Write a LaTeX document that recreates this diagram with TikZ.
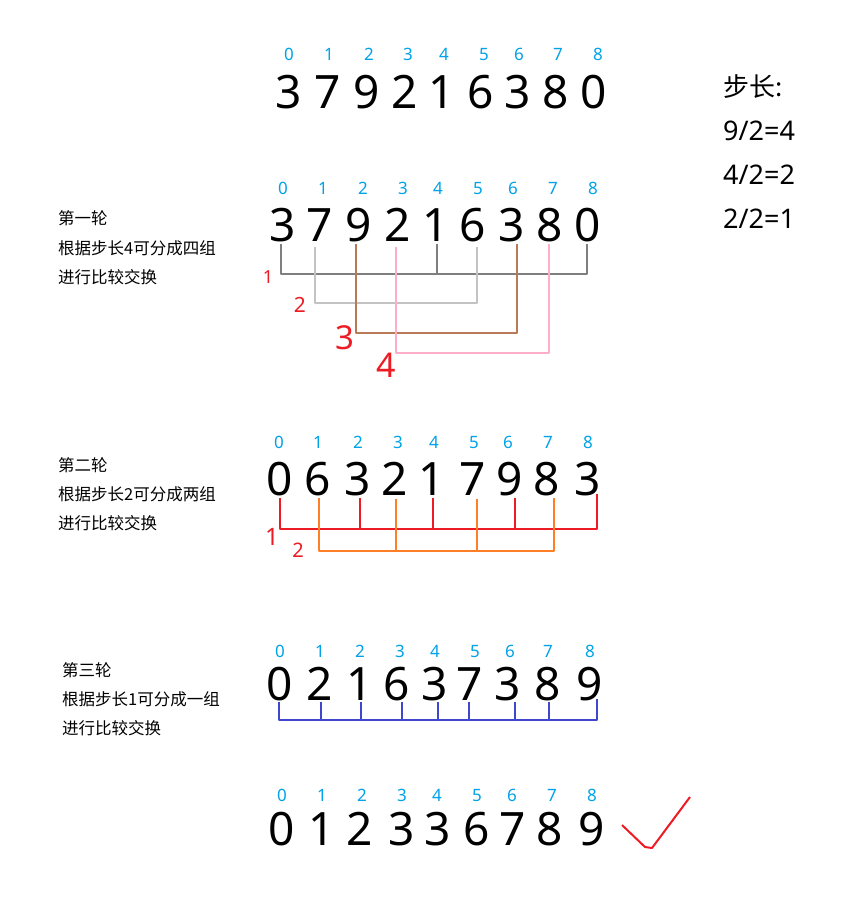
\documentclass[tikz,border=0pt]{standalone}
\usepackage{fontspec}
\setmainfont{Noto Sans}
\newfontfamily\cjk{Noto Sans CJK SC}
\definecolor{idxblue}{HTML}{00A2E8}
\definecolor{ggray}{HTML}{7F7F7F}
\definecolor{glight}{HTML}{C3C3C3}
\definecolor{gbrown}{HTML}{B97A57}
\definecolor{gpink}{HTML}{FFAEC9}
\definecolor{gred}{HTML}{ED1C24}
\definecolor{gorange}{HTML}{FF7F27}
\definecolor{gblue}{HTML}{3F48CC}
\begin{document}
\begin{tikzpicture}[x=1pt,y=-1pt,
  idx/.style={font=\fontsize{17}{17}\selectfont, text=idxblue, inner sep=0pt, anchor=base, yshift=-6pt},
  dig/.style={font=\fontsize{46}{46}\selectfont, inner sep=0pt, anchor=base, yshift=-16.4pt},
  lbl/.style={font=\cjk\fontsize{16.5}{16.5}\selectfont, anchor=west, inner sep=0pt},
  steptxt/.style={font=\fontsize{27}{27}\selectfont, anchor=west, inner sep=0pt},
  hand/.style={text=gred, inner sep=0pt},
  wire/.style={line width=2pt, line join=round}]
\useasboundingbox (0,0) rectangle (858,906);
\fill[white] (0,0) rectangle (858,906);

% row 1
\foreach \x/\d [count=\i from 0] in {289/3,328/7,367/9,405/2,442/1,481/6,518/3,556/8,594/0}
  \node[dig] (r1d\i) at (\x,92) {\d};
\foreach \x [count=\i from 0] in {289,329,369,408,444,484,519,558,598}
  \node[idx] (r1i\i) at (\x,54) {\i};

% step sizes
\node[steptxt, font=\cjk\fontsize{26}{26}\selectfont] (s0) at (723,87) {步长:};
\node[steptxt] (s1) at (723,131) {9/2=4};
\node[steptxt] (s2) at (723,175) {4/2=2};
\node[steptxt] (s3) at (723,219) {2/2=1};

% row 2
\foreach \x/\d [count=\i from 0] in {283/3,320/7,359/9,398/2,436/1,473/6,512/3,550/8,588/0}
  \node[dig] (r2d\i) at (\x,225) {\d};
\foreach \x [count=\i from 0] in {283,323,363,403,438,478,513,553,593}
  \node[idx] (r2i\i) at (\x,188) {\i};
\node[lbl] (l1a) at (58,218) {第一轮};
\node[lbl] (l1b) at (58,248) {根据步长4可分成四组};
\node[lbl] (l1c) at (58,277) {进行比较交换};

\coordinate (b1) at (0,274);
\coordinate (b2) at (0,303);
\coordinate (b3) at (0,333);
\coordinate (b4) at (0,353);
\draw[wire, ggray] ([xshift=-2pt,yshift=-2pt]r2d0.south) -- ([xshift=-2pt]r2d0.south |- b1)
  -- ([xshift=-1pt]r2d8.south |- b1) -- ([xshift=-1pt,yshift=-2pt]r2d8.south);
\draw[wire, ggray] ([xshift=1pt,yshift=-2pt]r2d4.south) -- ([xshift=1pt]r2d4.south |- b1);
\draw[wire, glight] ([xshift=-5pt,yshift=-5pt]r2d1.south) -- ([xshift=-5pt]r2d1.south |- b2)
  -- ([xshift=4pt]r2d5.south |- b2) -- ([xshift=4pt,yshift=-5pt]r2d5.south);
\draw[wire, gbrown] ([xshift=-3pt,yshift=-2pt]r2d2.south) -- ([xshift=-3pt]r2d2.south |- b3)
  -- ([xshift=5pt]r2d6.south |- b3) -- ([xshift=5pt,yshift=-2pt]r2d6.south);
\draw[wire, gpink] ([xshift=-2pt,yshift=-5pt]r2d3.south) -- ([xshift=-2pt]r2d3.south |- b4)
  -- ([xshift=-1pt]r2d7.south |- b4) -- ([xshift=-1pt,yshift=-2pt]r2d7.south);
\node[hand, font=\fontsize{18}{18}\selectfont] (h1) at (268,277) {1};
\node[hand, font=\fontsize{21}{21}\selectfont] (h2) at (300,305) {2};
\node[hand, font=\fontsize{33}{33}\selectfont] (h3) at (345,338) {3};
\node[hand, font=\fontsize{34}{34}\selectfont] (h4) at (386,365) {4};

% row 3
\foreach \x/\d [count=\i from 0] in {280/0,318/6,358/3,395/2,432/1,473/7,510/9,547/8,588/3}
  \node[dig] (r3d\i) at (\x,479) {\d};
\foreach \x [count=\i from 0] in {279,318,358,398,434,474,508,548,588}
  \node[idx] (r3i\i) at (\x,442) {\i};
\node[lbl] (l2a) at (58,465) {第二轮};
\node[lbl] (l2b) at (58,494) {根据步长2可分成两组};
\node[lbl] (l2c) at (58,523) {进行比较交换};

\coordinate (c1) at (0,529);
\coordinate (c2) at (0,551);
\draw[wire, gred] ([yshift=-2pt]r3d0.south) -- (r3d0.south |- c1)
  -- ([xshift=9pt]r3d8.south |- c1) -- ([xshift=9pt,yshift=2pt]r3d8.south);
\foreach \i/\s in {2/2,4/1,6/5}
  \draw[wire, gred] ([xshift=\s pt,yshift=-2pt]r3d\i.south) -- ([xshift=\s pt]r3d\i.south |- c1);
\draw[wire, gorange] ([xshift=1pt,yshift=-2pt]r3d1.south) -- ([xshift=1pt]r3d1.south |- c2)
  -- ([xshift=7pt]r3d7.south |- c2) -- ([xshift=7pt,yshift=-2pt]r3d7.south);
\foreach \i/\s in {3/1,5/4}
  \draw[wire, gorange] ([xshift=\s pt,yshift=-3pt]r3d\i.south) -- ([xshift=\s pt]r3d\i.south |- c2);
\node[hand, font=\fontsize{24}{24}\selectfont] (h5) at (272,537) {1};
\node[hand, font=\fontsize{20}{20}\selectfont] (h6) at (298,550) {2};

% row 4
\foreach \x/\d [count=\i from 0] in {280/0,320/2,360/1,397/6,435/3,470/7,508/3,548/8,590/9}
  \node[dig] (r4d\i) at (\x,684) {\d};
\foreach \x [count=\i from 0] in {280,320,360,400,435,475,510,548,590}
  \node[idx] (r4i\i) at (\x,651) {\i};
\node[lbl] (l3a) at (62,670) {第三轮};
\node[lbl] (l3b) at (62,699) {根据步长1可分成一组};
\node[lbl] (l3c) at (62,728) {进行比较交换};

\coordinate (d1) at (0,720);
\draw[wire, gblue] ([xshift=-1pt,yshift=-1pt]r4d0.south) -- ([xshift=-1pt]r4d0.south |- d1)
  -- ([xshift=7pt]r4d8.south |- d1) -- ([xshift=7pt,yshift=2pt]r4d8.south);
\foreach \i/\s in {1/1,2/1,3/5,4/3,5/-1,6/7,7/1}
  \draw[wire, gblue] ([xshift=\s pt,yshift=-1pt]r4d\i.south) -- ([xshift=\s pt]r4d\i.south |- d1);

% row 5
\foreach \x/\d [count=\i from 0] in {282/0,322/1,360/2,402/3,438/3,477/6,513/7,550/8,592/9}
  \node[dig] (r5d\i) at (\x,829) {\d};
\foreach \x [count=\i from 0] in {282,322,362,402,437,477,512,552,592}
  \node[idx] (r5i\i) at (\x,795) {\i};
\coordinate (k0) at (622,825);
\coordinate (k1) at (645,847);
\coordinate (k2) at (652,848);
\coordinate (k3) at (690,797);
\draw[wire, gred] (k0) -- (k1) -- (k2) -- (k3);
\end{tikzpicture}
\end{document}
